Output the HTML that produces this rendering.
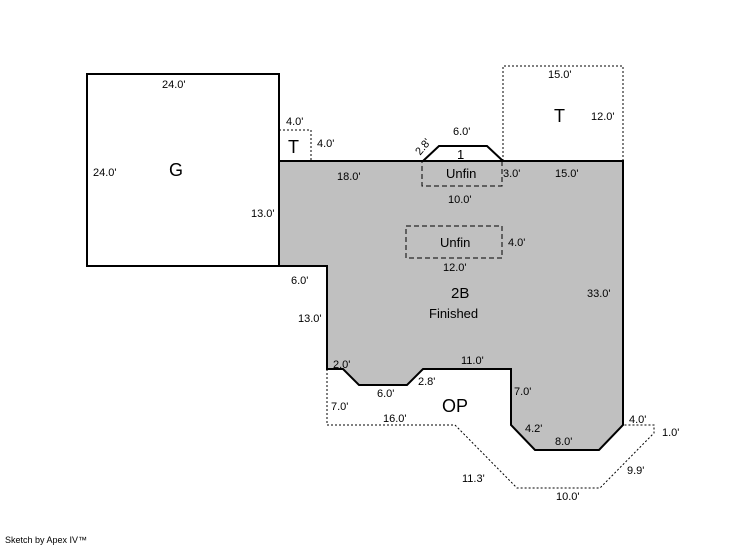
<!DOCTYPE html>
<html><head><style>
body{margin:0;background:#fff;}
svg text{font-family:"Liberation Sans",Arial,sans-serif;font-size:11px;fill:#000;}
.b{font-size:18px;}
</style></head><body>
<svg width="746" height="547" xmlns="http://www.w3.org/2000/svg">
<polygon points="279,161 623,161 623,425 599,450 535,450 511,425 511,369 423,369 407,385 359,385 343,369 327,369 327,266 279,266" fill="#c0c0c0" stroke="#000" stroke-width="2"/>
<polyline points="423,161 439,146 487,146 503,161" fill="none" stroke="#000" stroke-width="2"/>
<rect x="87" y="74" width="192" height="192" fill="#fff" stroke="#000" stroke-width="2"/>
<g fill="none" stroke="#000" stroke-width="1" stroke-dasharray="2,2">
<polyline points="279,130 311,130 311,161"/>
<polyline points="503,161 503,66 623,66 623,161"/>
<polyline points="327,369 327,425 455,425 517,488 600,488 654,433 654,425 623,425"/>
</g>
<g fill="none" stroke="#000" stroke-width="1" stroke-dasharray="5,3">
<rect x="422" y="161" width="80" height="25"/>
<rect x="406" y="226" width="96" height="32"/>
</g>
<text x="162" y="88">24.0'</text>
<text x="93" y="176">24.0'</text>
<text x="169" y="176" class="b">G</text>
<text x="251" y="217">13.0'</text>
<text x="286" y="125">4.0'</text>
<text x="288" y="153" class="b">T</text>
<text x="317" y="147">4.0'</text>
<text x="337" y="180">18.0'</text>
<text x="453" y="135">6.0'</text>
<text x="457" y="159" style="font-size:13px">1</text>
<text x="416" y="153" transform="rotate(-50 421 150)">2.8'</text>
<text x="446" y="178" style="font-size:13px">Unfin</text>
<text x="503" y="177">3.0'</text>
<text x="555" y="177">15.0'</text>
<text x="548" y="78">15.0'</text>
<text x="554" y="122" class="b">T</text>
<text x="591" y="120">12.0'</text>
<text x="448" y="203">10.0'</text>
<text x="440" y="247" style="font-size:13px">Unfin</text>
<text x="508" y="246">4.0'</text>
<text x="443" y="271">12.0'</text>
<text x="291" y="284">6.0'</text>
<text x="298" y="322">13.0'</text>
<text x="451" y="298" class="b" style="font-size:15px">2B</text>
<text x="429" y="318" style="font-size:13px">Finished</text>
<text x="587" y="297">33.0'</text>
<text x="333" y="368">2.0'</text>
<text x="461" y="364">11.0'</text>
<text x="377" y="397">6.0'</text>
<text x="418" y="385">2.8'</text>
<text x="514" y="395">7.0'</text>
<text x="331" y="410">7.0'</text>
<text x="442" y="412" class="b">OP</text>
<text x="383" y="422">16.0'</text>
<text x="525" y="432">4.2'</text>
<text x="555" y="445">8.0'</text>
<text x="629" y="423">4.0'</text>
<text x="662" y="436">1.0'</text>
<text x="462" y="482">11.3'</text>
<text x="627" y="474">9.9'</text>
<text x="556" y="500">10.0'</text>
<text x="5" y="543" style="font-size:9px">Sketch by Apex IV™</text>
</svg>
</body></html>
